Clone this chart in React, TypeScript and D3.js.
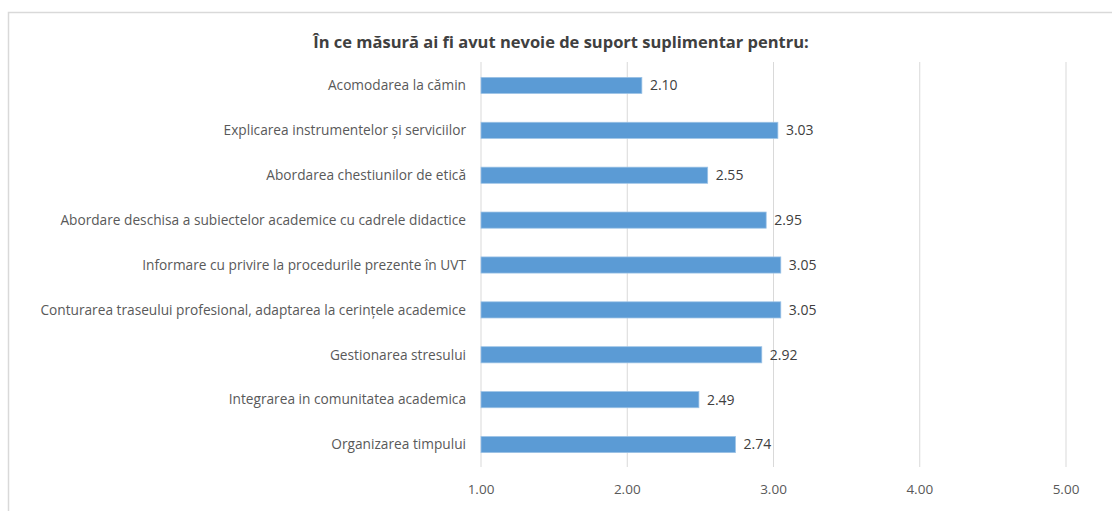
import React from "react";
import * as d3 from "d3";

const title = "În ce măsură ai fi avut nevoie de suport suplimentar pentru:";
const categories = [
  "Acomodarea la cămin",
  "Explicarea instrumentelor și serviciilor ",
  "Abordarea chestiunilor de etică",
  "Abordare deschisa a subiectelor academice cu cadrele didactice ",
  "Informare cu privire la procedurile prezente în UVT",
  "Conturarea traseului profesional, adaptarea la cerințele academice",
  "Gestionarea stresului",
  "Integrarea in comunitatea academica ",
  "Organizarea timpului",
];
const values = [2.1, 3.03, 2.55, 2.95, 3.05, 3.05, 2.92, 2.49, 2.74];
const ticks = [1, 2, 3, 4, 5];

const W = 1112;
const H = 511;
const FONT = "'Open Sans', sans-serif";

export default function App() {
  const x = d3.scaleLinear().domain([1, 5]).range([481, 1066]);
  const y = d3
    .scaleBand()
    .domain(categories)
    .range([63, 467])
    .paddingInner(0.64)
    .paddingOuter(0.32);

  return (
    <svg
      width={W}
      height={H}
      style={{ position: "absolute", left: 0, top: 0, background: "#fff" }}
    >
      <rect x={8.5} y={12.5} width={1200} height={600} fill="#fff" stroke="#d9d9d9" strokeWidth={1.5} />
      <text
        x={561}
        y={48}
        textAnchor="middle"
        fontFamily={FONT}
        fontWeight="bold"
        fontSize={16.5}
        fill="#404040"
      >
        {title}
      </text>
      {ticks.map((t) => (
        <g key={t}>
          <line x1={x(t)} x2={x(t)} y1={62} y2={467} stroke="#d9d9d9" strokeWidth={1} />
          <text
            x={x(t)}
            y={494}
            textAnchor="middle"
            fontFamily={FONT}
            fontSize={13.5}
            fill="#595959"
          >
            {d3.format(".2f")(t)}
          </text>
        </g>
      ))}
      {categories.map((c, i) => {
        const by = y(c)!;
        const bh = y.bandwidth();
        return (
          <g key={c}>
            <rect
              x={x(1)}
              y={by}
              width={x(values[i]) - x(1)}
              height={bh}
              fill="#5b9bd5"
              stroke="#9dc3e6"
              strokeWidth={0.75}
            />
            <text
              x={x(values[i]) + 8}
              y={by + bh / 2}
              dy="0.35em"
              fontFamily={FONT}
              fontSize={14}
              fill="#404040"
            >
              {d3.format(".2f")(values[i])}
            </text>
            <text
              x={466}
              y={by + bh / 2}
              dy="0.35em"
              textAnchor="end"
              fontFamily={FONT}
              fontSize={13.7}
              fill="#595959"
            >
              {c.trimEnd()}
            </text>
          </g>
        );
      })}
    </svg>
  );
}
